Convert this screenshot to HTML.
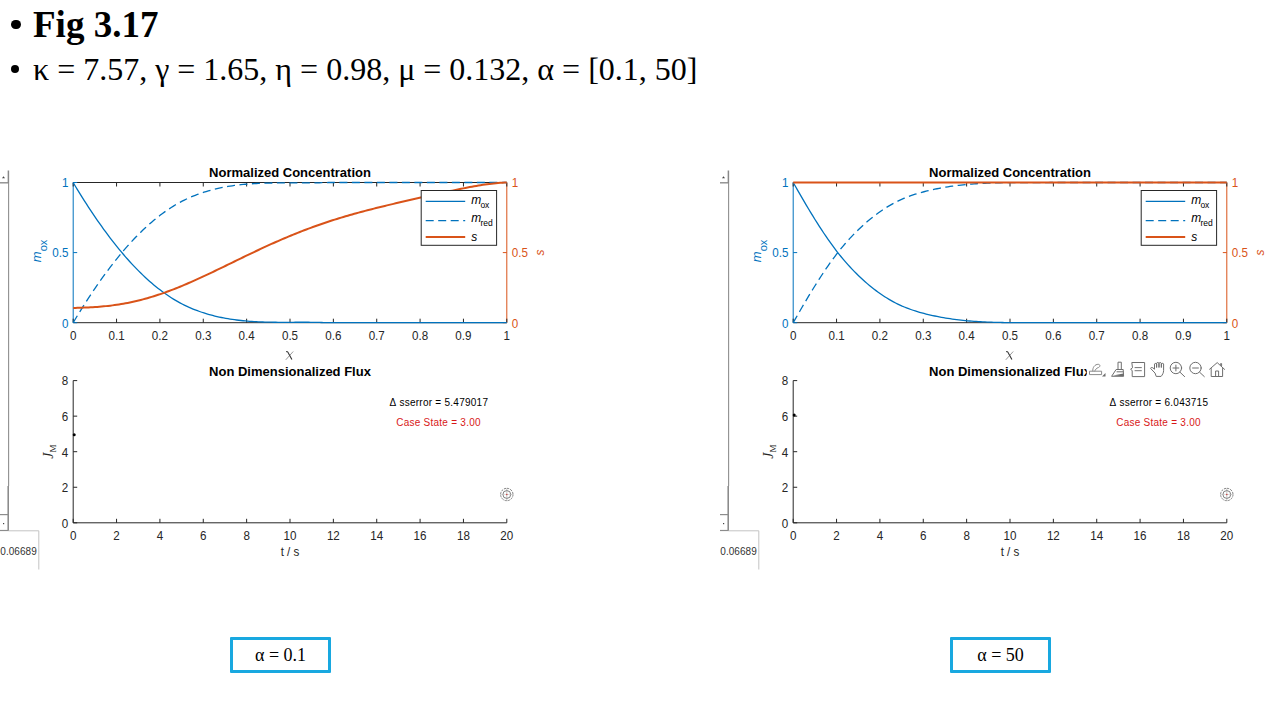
<!DOCTYPE html>
<html><head><meta charset="utf-8"><style>
html,body{margin:0;padding:0;background:#fff;width:1280px;height:720px;overflow:hidden;}
body{position:relative;font-family:"Liberation Sans",sans-serif;}
.h1{position:absolute;left:0;top:0;font-family:"Liberation Serif",serif;font-weight:bold;font-size:37px;color:#000;white-space:nowrap;}
.h2{position:absolute;left:0;top:0;font-family:"Liberation Serif",serif;font-size:32px;color:#000;white-space:nowrap;}
svg{position:absolute;left:0;top:0;}
.tk{font-family:"Liberation Sans",sans-serif;font-size:12.5px;fill:#262626;}
.ttl{font-family:"Liberation Sans",sans-serif;font-size:13px;font-weight:bold;fill:#000;}
.lab{font-family:"Liberation Sans",sans-serif;font-size:12px;}
.lg{font-family:"Liberation Sans",sans-serif;font-size:11px;fill:#000;}
.chi{font-family:"Liberation Serif",serif;font-size:14px;font-style:italic;fill:#262626;}
.jm{font-family:"Liberation Serif",serif;font-size:13px;fill:#262626;}
.ann{font-family:"Liberation Sans",sans-serif;font-size:10px;fill:#000;letter-spacing:0.25px;}
.cap{position:absolute;box-sizing:border-box;border:3px solid #18A8E0;background:#fff;font-family:"Liberation Serif",serif;font-size:18px;color:#000;text-align:center;border-radius:1px;}
</style></head><body>
<div style="position:absolute;left:11.2px;top:19.8px;width:9.4px;height:9.4px;border-radius:50%;background:#000"></div>
<div class="h1" style="left:33px;top:3px">Fig 3.17</div>
<div style="position:absolute;left:11px;top:65px;width:8.2px;height:8.2px;border-radius:50%;background:#000"></div>
<div class="h2" style="left:33px;top:51px">κ = 7.57, γ = 1.65, η = 0.98, μ = 0.132, α = [0.1, 50]</div>
<svg width="1280" height="720" viewBox="0 0 1280 720">
<line x1="8.6" y1="183" x2="8.6" y2="486" stroke="#8f8f8f" stroke-width="1.1"/>
<line x1="8.4" y1="170.5" x2="8.4" y2="183" stroke="#888" stroke-width="1.5"/>
<line x1="8.2" y1="486" x2="8.2" y2="531" stroke="#858585" stroke-width="1.5"/>
<line x1="0" y1="182.8" x2="8.5" y2="182.8" stroke="#8c8c8c" stroke-width="1.4"/>
<path d="M2 178.3 L3.5 176.3 L5 178.3 Z" fill="#444"/>
<line x1="0" y1="514.6" x2="8.5" y2="514.6" stroke="#8c8c8c" stroke-width="1.2"/>
<rect x="3" y="523" width="1.2" height="1.2" fill="#444"/>
<line x1="0" y1="530.5" x2="8.5" y2="530.5" stroke="#8c8c8c" stroke-width="1.2"/>
<path d="M8.5 530.8 H38.8 V569.5" fill="none" stroke="#c4c4c4" stroke-width="1"/>
<text x="0.3" y="555" class="ann" style="fill:#333;letter-spacing:0.05px">0.06689</text>
<line x1="728.6" y1="183" x2="728.6" y2="486" stroke="#8f8f8f" stroke-width="1.1"/>
<line x1="728.4" y1="170.5" x2="728.4" y2="183" stroke="#888" stroke-width="1.5"/>
<line x1="728.2" y1="486" x2="728.2" y2="531" stroke="#858585" stroke-width="1.5"/>
<line x1="720" y1="182.8" x2="728.5" y2="182.8" stroke="#8c8c8c" stroke-width="1.4"/>
<path d="M722 178.3 L723.5 176.3 L725 178.3 Z" fill="#444"/>
<line x1="720" y1="514.6" x2="728.5" y2="514.6" stroke="#8c8c8c" stroke-width="1.2"/>
<rect x="723" y="523" width="1.2" height="1.2" fill="#444"/>
<line x1="720" y1="530.5" x2="728.5" y2="530.5" stroke="#8c8c8c" stroke-width="1.2"/>
<path d="M728.5 530.8 H758.8 V569.5" fill="none" stroke="#c4c4c4" stroke-width="1"/>
<text x="720.3" y="555" class="ann" style="fill:#333;letter-spacing:0.05px">0.06689</text>
<line x1="73.2" y1="182.5" x2="506.8" y2="182.5" stroke="#262626" stroke-width="1"/>
<line x1="73.2" y1="322.7" x2="506.8" y2="322.7" stroke="#262626" stroke-width="1"/>
<line x1="73.2" y1="182.5" x2="73.2" y2="322.7" stroke="#0072BD" stroke-width="1"/>
<line x1="506.8" y1="182.5" x2="506.8" y2="322.7" stroke="#D95319" stroke-width="1"/>
<line x1="73.20" y1="322.7" x2="73.20" y2="318.7" stroke="#262626" stroke-width="1"/>
<line x1="73.20" y1="182.5" x2="73.20" y2="186.5" stroke="#262626" stroke-width="1"/>
<text transform="translate(73.20,339.7) scale(0.93,1)" class="tk" text-anchor="middle">0</text>
<line x1="116.56" y1="322.7" x2="116.56" y2="318.7" stroke="#262626" stroke-width="1"/>
<line x1="116.56" y1="182.5" x2="116.56" y2="186.5" stroke="#262626" stroke-width="1"/>
<text transform="translate(116.56,339.7) scale(0.93,1)" class="tk" text-anchor="middle">0.1</text>
<line x1="159.92" y1="322.7" x2="159.92" y2="318.7" stroke="#262626" stroke-width="1"/>
<line x1="159.92" y1="182.5" x2="159.92" y2="186.5" stroke="#262626" stroke-width="1"/>
<text transform="translate(159.92,339.7) scale(0.93,1)" class="tk" text-anchor="middle">0.2</text>
<line x1="203.28" y1="322.7" x2="203.28" y2="318.7" stroke="#262626" stroke-width="1"/>
<line x1="203.28" y1="182.5" x2="203.28" y2="186.5" stroke="#262626" stroke-width="1"/>
<text transform="translate(203.28,339.7) scale(0.93,1)" class="tk" text-anchor="middle">0.3</text>
<line x1="246.64" y1="322.7" x2="246.64" y2="318.7" stroke="#262626" stroke-width="1"/>
<line x1="246.64" y1="182.5" x2="246.64" y2="186.5" stroke="#262626" stroke-width="1"/>
<text transform="translate(246.64,339.7) scale(0.93,1)" class="tk" text-anchor="middle">0.4</text>
<line x1="290.00" y1="322.7" x2="290.00" y2="318.7" stroke="#262626" stroke-width="1"/>
<line x1="290.00" y1="182.5" x2="290.00" y2="186.5" stroke="#262626" stroke-width="1"/>
<text transform="translate(290.00,339.7) scale(0.93,1)" class="tk" text-anchor="middle">0.5</text>
<line x1="333.36" y1="322.7" x2="333.36" y2="318.7" stroke="#262626" stroke-width="1"/>
<line x1="333.36" y1="182.5" x2="333.36" y2="186.5" stroke="#262626" stroke-width="1"/>
<text transform="translate(333.36,339.7) scale(0.93,1)" class="tk" text-anchor="middle">0.6</text>
<line x1="376.72" y1="322.7" x2="376.72" y2="318.7" stroke="#262626" stroke-width="1"/>
<line x1="376.72" y1="182.5" x2="376.72" y2="186.5" stroke="#262626" stroke-width="1"/>
<text transform="translate(376.72,339.7) scale(0.93,1)" class="tk" text-anchor="middle">0.7</text>
<line x1="420.08" y1="322.7" x2="420.08" y2="318.7" stroke="#262626" stroke-width="1"/>
<line x1="420.08" y1="182.5" x2="420.08" y2="186.5" stroke="#262626" stroke-width="1"/>
<text transform="translate(420.08,339.7) scale(0.93,1)" class="tk" text-anchor="middle">0.8</text>
<line x1="463.44" y1="322.7" x2="463.44" y2="318.7" stroke="#262626" stroke-width="1"/>
<line x1="463.44" y1="182.5" x2="463.44" y2="186.5" stroke="#262626" stroke-width="1"/>
<text transform="translate(463.44,339.7) scale(0.93,1)" class="tk" text-anchor="middle">0.9</text>
<line x1="506.80" y1="322.7" x2="506.80" y2="318.7" stroke="#262626" stroke-width="1"/>
<line x1="506.80" y1="182.5" x2="506.80" y2="186.5" stroke="#262626" stroke-width="1"/>
<text transform="translate(506.80,339.7) scale(0.93,1)" class="tk" text-anchor="middle">1</text>
<line x1="73.2" y1="322.70" x2="77.2" y2="322.70" stroke="#0072BD" stroke-width="1"/>
<line x1="506.8" y1="322.70" x2="502.8" y2="322.70" stroke="#D95319" stroke-width="1"/>
<text transform="translate(68.4,327.50) scale(0.93,1)" class="tk" style="fill:#0072BD" text-anchor="end">0</text>
<text transform="translate(511.8,327.50) scale(0.93,1)" class="tk" style="fill:#D95319">0</text>
<line x1="73.2" y1="252.60" x2="77.2" y2="252.60" stroke="#0072BD" stroke-width="1"/>
<line x1="506.8" y1="252.60" x2="502.8" y2="252.60" stroke="#D95319" stroke-width="1"/>
<text transform="translate(68.4,257.40) scale(0.93,1)" class="tk" style="fill:#0072BD" text-anchor="end">0.5</text>
<text transform="translate(511.8,257.40) scale(0.93,1)" class="tk" style="fill:#D95319">0.5</text>
<line x1="73.2" y1="182.50" x2="77.2" y2="182.50" stroke="#0072BD" stroke-width="1"/>
<line x1="506.8" y1="182.50" x2="502.8" y2="182.50" stroke="#D95319" stroke-width="1"/>
<text transform="translate(68.4,187.30) scale(0.93,1)" class="tk" style="fill:#0072BD" text-anchor="end">1</text>
<text transform="translate(511.8,187.30) scale(0.93,1)" class="tk" style="fill:#D95319">1</text>
<polyline points="73.20,182.59 75.38,186.22 77.56,189.81 79.74,193.36 81.92,196.85 84.09,200.31 86.27,203.71 88.45,207.07 90.63,210.38 92.81,213.65 94.99,216.87 97.17,220.04 99.35,223.16 101.53,226.23 103.70,229.26 105.88,232.24 108.06,235.17 110.24,238.05 112.42,240.88 114.60,243.66 116.78,246.38 118.96,249.06 121.14,251.69 123.31,254.27 125.49,256.80 127.67,259.27 129.85,261.70 132.03,264.07 134.21,266.39 136.39,268.66 138.57,270.87 140.75,273.03 142.92,275.14 145.10,277.20 147.28,279.20 149.46,281.15 151.64,283.04 153.82,284.89 156.00,286.68 158.18,288.41 160.36,290.10 162.53,291.73 164.71,293.31 166.89,294.83 169.07,296.30 171.25,297.72 173.43,299.09 175.61,300.40 177.79,301.66 179.97,302.87 182.14,304.02 184.32,305.12 186.50,306.17 188.68,307.18 190.86,308.13 193.04,309.04 195.22,309.90 197.40,310.73 199.58,311.51 201.75,312.26 203.93,312.97 206.11,313.65 208.29,314.29 210.47,314.90 212.65,315.48 214.83,316.03 217.01,316.55 219.19,317.04 221.36,317.50 223.54,317.94 225.72,318.34 227.90,318.73 230.08,319.08 232.26,319.41 234.44,319.72 236.62,320.01 238.80,320.27 240.97,320.52 243.15,320.74 245.33,320.95 247.51,321.13 249.69,321.30 251.87,321.46 254.05,321.59 256.23,321.71 258.41,321.82 260.58,321.92 262.76,322.00 264.94,322.07 267.12,322.13 269.30,322.17 271.48,322.21 273.66,322.24 275.84,322.27 278.02,322.28 280.19,322.30 282.37,322.30 284.55,322.30 286.73,322.30 288.91,322.30 291.09,322.29 293.27,322.28 295.45,322.27 297.63,322.27 299.81,322.26 301.98,322.26 304.16,322.26 306.34,322.26 308.52,322.27 310.70,322.29 312.88,322.31 315.06,322.34 317.24,322.38 319.42,322.42 321.59,322.48 323.77,322.54 325.95,322.62 328.13,322.70 330.31,322.70 332.49,322.70 334.67,322.70 336.85,322.70 339.03,322.70 341.20,322.70 343.38,322.70 345.56,322.70 347.74,322.70 349.92,322.70 352.10,322.70 354.28,322.70 356.46,322.70 358.64,322.70 360.81,322.70 362.99,322.70 365.17,322.70 367.35,322.70 369.53,322.70 371.71,322.70 373.89,322.70 376.07,322.70 378.25,322.70 380.42,322.70 382.60,322.70 384.78,322.70 386.96,322.70 389.14,322.70 391.32,322.70 393.50,322.70 395.68,322.70 397.86,322.70 400.03,322.70 402.21,322.70 404.39,322.70 406.57,322.70 408.75,322.70 410.93,322.70 413.11,322.70 415.29,322.70 417.47,322.70 419.64,322.70 421.82,322.70 424.00,322.70 426.18,322.70 428.36,322.70 430.54,322.70 432.72,322.70 434.90,322.70 437.08,322.70 439.25,322.70 441.43,322.70 443.61,322.70 445.79,322.70 447.97,322.70 450.15,322.70 452.33,322.70 454.51,322.70 456.69,322.70 458.86,322.70 461.04,322.70 463.22,322.70 465.40,322.70 467.58,322.70 469.76,322.70 471.94,322.70 474.12,322.70 476.30,322.70 478.47,322.70 480.65,322.70 482.83,322.70 485.01,322.70 487.19,322.70 489.37,322.70 491.55,322.70 493.73,322.70 495.91,322.70 498.08,322.70 500.26,322.70 502.44,322.70 504.62,322.70 506.80,322.70" fill="none" stroke="#0072BD" stroke-width="1.3"/>
<polyline points="73.20,322.61 75.38,318.98 77.56,315.39 79.74,311.84 81.92,308.35 84.09,304.89 86.27,301.49 88.45,298.13 90.63,294.82 92.81,291.55 94.99,288.33 97.17,285.16 99.35,282.04 101.53,278.97 103.70,275.94 105.88,272.96 108.06,270.03 110.24,267.15 112.42,264.32 114.60,261.54 116.78,258.82 118.96,256.14 121.14,253.51 123.31,250.93 125.49,248.40 127.67,245.93 129.85,243.50 132.03,241.13 134.21,238.81 136.39,236.54 138.57,234.33 140.75,232.17 142.92,230.06 145.10,228.00 147.28,226.00 149.46,224.05 151.64,222.16 153.82,220.31 156.00,218.52 158.18,216.79 160.36,215.10 162.53,213.47 164.71,211.89 166.89,210.37 169.07,208.90 171.25,207.48 173.43,206.11 175.61,204.80 177.79,203.54 179.97,202.33 182.14,201.18 184.32,200.08 186.50,199.03 188.68,198.02 190.86,197.07 193.04,196.16 195.22,195.30 197.40,194.47 199.58,193.69 201.75,192.94 203.93,192.23 206.11,191.55 208.29,190.91 210.47,190.30 212.65,189.72 214.83,189.17 217.01,188.65 219.19,188.16 221.36,187.70 223.54,187.26 225.72,186.86 227.90,186.47 230.08,186.12 232.26,185.79 234.44,185.48 236.62,185.19 238.80,184.93 240.97,184.68 243.15,184.46 245.33,184.25 247.51,184.07 249.69,183.90 251.87,183.74 254.05,183.61 256.23,183.49 258.41,183.38 260.58,183.28 262.76,183.20 264.94,183.13 267.12,183.07 269.30,183.03 271.48,182.99 273.66,182.96 275.84,182.93 278.02,182.92 280.19,182.90 282.37,182.90 284.55,182.90 286.73,182.90 288.91,182.90 291.09,182.91 293.27,182.92 295.45,182.93 297.63,182.93 299.81,182.94 301.98,182.94 304.16,182.94 306.34,182.94 308.52,182.93 310.70,182.91 312.88,182.89 315.06,182.86 317.24,182.82 319.42,182.78 321.59,182.72 323.77,182.66 325.95,182.58 328.13,182.50 330.31,182.50 332.49,182.50 334.67,182.50 336.85,182.50 339.03,182.50 341.20,182.50 343.38,182.50 345.56,182.50 347.74,182.50 349.92,182.50 352.10,182.50 354.28,182.50 356.46,182.50 358.64,182.50 360.81,182.50 362.99,182.50 365.17,182.50 367.35,182.50 369.53,182.50 371.71,182.50 373.89,182.50 376.07,182.50 378.25,182.50 380.42,182.50 382.60,182.50 384.78,182.50 386.96,182.50 389.14,182.50 391.32,182.50 393.50,182.50 395.68,182.50 397.86,182.50 400.03,182.50 402.21,182.50 404.39,182.50 406.57,182.50 408.75,182.50 410.93,182.50 413.11,182.50 415.29,182.50 417.47,182.50 419.64,182.50 421.82,182.50 424.00,182.50 426.18,182.50 428.36,182.50 430.54,182.50 432.72,182.50 434.90,182.50 437.08,182.50 439.25,182.50 441.43,182.50 443.61,182.50 445.79,182.50 447.97,182.50 450.15,182.50 452.33,182.50 454.51,182.50 456.69,182.50 458.86,182.50 461.04,182.50 463.22,182.50 465.40,182.50 467.58,182.50 469.76,182.50 471.94,182.50 474.12,182.50 476.30,182.50 478.47,182.50 480.65,182.50 482.83,182.50 485.01,182.50 487.19,182.50 489.37,182.50 491.55,182.50 493.73,182.50 495.91,182.50 498.08,182.50 500.26,182.50 502.44,182.50 504.62,182.50 506.80,182.50" fill="none" stroke="#0072BD" stroke-width="1.3" stroke-dasharray="8 4.5"/>
<polyline points="73.20,307.94 75.38,307.88 77.56,307.81 79.74,307.74 81.92,307.67 84.09,307.59 86.27,307.50 88.45,307.40 90.63,307.29 92.81,307.17 94.99,307.03 97.17,306.89 99.35,306.72 101.53,306.54 103.70,306.35 105.88,306.13 108.06,305.90 110.24,305.65 112.42,305.38 114.60,305.09 116.78,304.78 118.96,304.45 121.14,304.09 123.31,303.72 125.49,303.33 127.67,302.91 129.85,302.47 132.03,302.01 134.21,301.53 136.39,301.03 138.57,300.50 140.75,299.95 142.92,299.39 145.10,298.80 147.28,298.19 149.46,297.55 151.64,296.90 153.82,296.23 156.00,295.54 158.18,294.82 160.36,294.09 162.53,293.34 164.71,292.57 166.89,291.79 169.07,290.98 171.25,290.16 173.43,289.32 175.61,288.47 177.79,287.60 179.97,286.71 182.14,285.81 184.32,284.90 186.50,283.97 188.68,283.04 190.86,282.09 193.04,281.12 195.22,280.15 197.40,279.17 199.58,278.17 201.75,277.17 203.93,276.16 206.11,275.15 208.29,274.12 210.47,273.09 212.65,272.05 214.83,271.01 217.01,269.96 219.19,268.91 221.36,267.86 223.54,266.80 225.72,265.74 227.90,264.68 230.08,263.62 232.26,262.56 234.44,261.50 236.62,260.44 238.80,259.38 240.97,258.32 243.15,257.26 245.33,256.21 247.51,255.16 249.69,254.11 251.87,253.07 254.05,252.03 256.23,251.00 258.41,249.98 260.58,248.95 262.76,247.94 264.94,246.93 267.12,245.93 269.30,244.94 271.48,243.95 273.66,242.98 275.84,242.01 278.02,241.05 280.19,240.10 282.37,239.16 284.55,238.22 286.73,237.30 288.91,236.39 291.09,235.48 293.27,234.59 295.45,233.71 297.63,232.84 299.81,231.97 301.98,231.12 304.16,230.28 306.34,229.45 308.52,228.63 310.70,227.82 312.88,227.03 315.06,226.24 317.24,225.46 319.42,224.70 321.59,223.94 323.77,223.20 325.95,222.46 328.13,221.74 330.31,221.03 332.49,220.32 334.67,219.63 336.85,218.95 339.03,218.27 341.20,217.61 343.38,216.95 345.56,216.31 347.74,215.67 349.92,215.04 352.10,214.42 354.28,213.80 356.46,213.20 358.64,212.60 360.81,212.01 362.99,211.43 365.17,210.85 367.35,210.28 369.53,209.72 371.71,209.16 373.89,208.61 376.07,208.06 378.25,207.52 380.42,206.98 382.60,206.45 384.78,205.92 386.96,205.40 389.14,204.88 391.32,204.36 393.50,203.85 395.68,203.33 397.86,202.83 400.03,202.32 402.21,201.82 404.39,201.31 406.57,200.81 408.75,200.31 410.93,199.82 413.11,199.32 415.29,198.83 417.47,198.33 419.64,197.84 421.82,197.35 424.00,196.86 426.18,196.37 428.36,195.88 430.54,195.40 432.72,194.91 434.90,194.42 437.08,193.94 439.25,193.46 441.43,192.98 443.61,192.50 445.79,192.03 447.97,191.55 450.15,191.08 452.33,190.62 454.51,190.15 456.69,189.70 458.86,189.24 461.04,188.80 463.22,188.36 465.40,187.92 467.58,187.50 469.76,187.08 471.94,186.68 474.12,186.28 476.30,185.90 478.47,185.53 480.65,185.17 482.83,184.83 485.01,184.50 487.19,184.20 489.37,183.91 491.55,183.64 493.73,183.40 495.91,183.18 498.08,182.99 500.26,182.82 502.44,182.69 504.62,182.59 506.80,182.52" fill="none" stroke="#D95319" stroke-width="2"/>
<text x="290.00" y="177" class="ttl" text-anchor="middle">Normalized Concentration</text>
<path d="M286.20 351.8 C287.40 351.2 288.00 352.2 288.60 353.5 L291.90 359.6" fill="none" stroke="#333" stroke-width="1.1"/>
<path d="M293.20 351.5 L285.80 359.8" fill="none" stroke="#555" stroke-width="0.6"/>
<text transform="translate(41.20,250.90) rotate(-90)" class="lab" style="fill:#0072BD" text-anchor="middle"><tspan font-style="italic" font-size="13">m</tspan><tspan font-size="11" dy="5.5">ox</tspan></text>
<text transform="translate(543.80,252.60) rotate(-90)" class="lab" style="fill:#D95319" text-anchor="middle" font-style="italic">s</text>
<rect x="421.2" y="190.5" width="75.4" height="54.8" fill="#fff" stroke="#262626" stroke-width="1"/>
<line x1="425.7" y1="201.3" x2="465.2" y2="201.3" stroke="#0072BD" stroke-width="1.3"/>
<line x1="425.7" y1="220.7" x2="465.2" y2="220.7" stroke="#0072BD" stroke-width="1.3" stroke-dasharray="8 4.5"/>
<line x1="425.7" y1="237" x2="465.2" y2="237" stroke="#D95319" stroke-width="2"/>
<text x="471.2" y="204" class="lg"><tspan font-style="italic" font-size="12">m</tspan><tspan font-size="8.5" dy="4" dx="-0.8">ox</tspan></text>
<text x="471.2" y="222" class="lg"><tspan font-style="italic" font-size="12">m</tspan><tspan font-size="8.5" dy="4" dx="-0.8">red</tspan></text>
<text x="471.2" y="241" class="lg" style="font-style:italic;font-size:12px">s</text>
<line x1="73.2" y1="380.6" x2="73.2" y2="522.8" stroke="#262626" stroke-width="1"/>
<line x1="73.2" y1="522.8" x2="506.8" y2="522.8" stroke="#262626" stroke-width="1"/>
<line x1="73.20" y1="522.8" x2="73.20" y2="518.8" stroke="#262626" stroke-width="1"/>
<text transform="translate(73.20,539.8) scale(0.93,1)" class="tk" text-anchor="middle">0</text>
<line x1="116.56" y1="522.8" x2="116.56" y2="518.8" stroke="#262626" stroke-width="1"/>
<text transform="translate(116.56,539.8) scale(0.93,1)" class="tk" text-anchor="middle">2</text>
<line x1="159.92" y1="522.8" x2="159.92" y2="518.8" stroke="#262626" stroke-width="1"/>
<text transform="translate(159.92,539.8) scale(0.93,1)" class="tk" text-anchor="middle">4</text>
<line x1="203.28" y1="522.8" x2="203.28" y2="518.8" stroke="#262626" stroke-width="1"/>
<text transform="translate(203.28,539.8) scale(0.93,1)" class="tk" text-anchor="middle">6</text>
<line x1="246.64" y1="522.8" x2="246.64" y2="518.8" stroke="#262626" stroke-width="1"/>
<text transform="translate(246.64,539.8) scale(0.93,1)" class="tk" text-anchor="middle">8</text>
<line x1="290.00" y1="522.8" x2="290.00" y2="518.8" stroke="#262626" stroke-width="1"/>
<text transform="translate(290.00,539.8) scale(0.93,1)" class="tk" text-anchor="middle">10</text>
<line x1="333.36" y1="522.8" x2="333.36" y2="518.8" stroke="#262626" stroke-width="1"/>
<text transform="translate(333.36,539.8) scale(0.93,1)" class="tk" text-anchor="middle">12</text>
<line x1="376.72" y1="522.8" x2="376.72" y2="518.8" stroke="#262626" stroke-width="1"/>
<text transform="translate(376.72,539.8) scale(0.93,1)" class="tk" text-anchor="middle">14</text>
<line x1="420.08" y1="522.8" x2="420.08" y2="518.8" stroke="#262626" stroke-width="1"/>
<text transform="translate(420.08,539.8) scale(0.93,1)" class="tk" text-anchor="middle">16</text>
<line x1="463.44" y1="522.8" x2="463.44" y2="518.8" stroke="#262626" stroke-width="1"/>
<text transform="translate(463.44,539.8) scale(0.93,1)" class="tk" text-anchor="middle">18</text>
<line x1="506.80" y1="522.8" x2="506.80" y2="518.8" stroke="#262626" stroke-width="1"/>
<text transform="translate(506.80,539.8) scale(0.93,1)" class="tk" text-anchor="middle">20</text>
<line x1="73.2" y1="522.80" x2="77.2" y2="522.80" stroke="#262626" stroke-width="1"/>
<text transform="translate(68.2,527.60) scale(0.93,1)" class="tk" text-anchor="end">0</text>
<line x1="73.2" y1="487.25" x2="77.2" y2="487.25" stroke="#262626" stroke-width="1"/>
<text transform="translate(68.2,492.05) scale(0.93,1)" class="tk" text-anchor="end">2</text>
<line x1="73.2" y1="451.70" x2="77.2" y2="451.70" stroke="#262626" stroke-width="1"/>
<text transform="translate(68.2,456.50) scale(0.93,1)" class="tk" text-anchor="end">4</text>
<line x1="73.2" y1="416.15" x2="77.2" y2="416.15" stroke="#262626" stroke-width="1"/>
<text transform="translate(68.2,420.95) scale(0.93,1)" class="tk" text-anchor="end">6</text>
<line x1="73.2" y1="380.60" x2="77.2" y2="380.60" stroke="#262626" stroke-width="1"/>
<text transform="translate(68.2,385.40) scale(0.93,1)" class="tk" text-anchor="end">8</text>
<text x="290.00" y="375.5" class="ttl" text-anchor="middle">Non Dimensionalized Flux</text>
<text transform="translate(290.00,556) scale(0.93,1)" class="tk" text-anchor="middle">t / s</text>
<text transform="translate(53.20,451.70) rotate(-90)" class="jm" text-anchor="middle"><tspan font-style="italic" font-size="14">J</tspan><tspan font-size="9" dy="2.5">M</tspan></text>
<circle cx="74.2" cy="434.81" r="1.5" fill="#000"/>
<text x="488.20" y="405.5" class="ann" text-anchor="end">Δ<tspan dx="3">sserror = 5.479017</tspan></text>
<text x="480.80" y="425.5" class="ann" style="fill:#D81818" text-anchor="end">Case State = 3.00</text>
<circle cx="506.80" cy="494.5" r="6.2" fill="none" stroke="#707070" stroke-width="0.9" stroke-dasharray="2.2 1"/>
<circle cx="506.80" cy="494.5" r="3.9" fill="none" stroke="#707070" stroke-width="0.9"/>
<line x1="506.80" y1="488.3" x2="506.80" y2="500.8" stroke="#888" stroke-width="0.5"/>
<line x1="500.30" y1="494.5" x2="513.30" y2="494.5" stroke="#aaa" stroke-width="0.4"/>
<circle cx="506.80" cy="494.5" r="0.8" fill="#c44"/>
<line x1="793.2" y1="182.5" x2="1226.8000000000002" y2="182.5" stroke="#262626" stroke-width="1"/>
<line x1="793.2" y1="322.7" x2="1226.8000000000002" y2="322.7" stroke="#262626" stroke-width="1"/>
<line x1="793.2" y1="182.5" x2="793.2" y2="322.7" stroke="#0072BD" stroke-width="1"/>
<line x1="1226.8000000000002" y1="182.5" x2="1226.8000000000002" y2="322.7" stroke="#D95319" stroke-width="1"/>
<line x1="793.20" y1="322.7" x2="793.20" y2="318.7" stroke="#262626" stroke-width="1"/>
<line x1="793.20" y1="182.5" x2="793.20" y2="186.5" stroke="#262626" stroke-width="1"/>
<text transform="translate(793.20,339.7) scale(0.93,1)" class="tk" text-anchor="middle">0</text>
<line x1="836.56" y1="322.7" x2="836.56" y2="318.7" stroke="#262626" stroke-width="1"/>
<line x1="836.56" y1="182.5" x2="836.56" y2="186.5" stroke="#262626" stroke-width="1"/>
<text transform="translate(836.56,339.7) scale(0.93,1)" class="tk" text-anchor="middle">0.1</text>
<line x1="879.92" y1="322.7" x2="879.92" y2="318.7" stroke="#262626" stroke-width="1"/>
<line x1="879.92" y1="182.5" x2="879.92" y2="186.5" stroke="#262626" stroke-width="1"/>
<text transform="translate(879.92,339.7) scale(0.93,1)" class="tk" text-anchor="middle">0.2</text>
<line x1="923.28" y1="322.7" x2="923.28" y2="318.7" stroke="#262626" stroke-width="1"/>
<line x1="923.28" y1="182.5" x2="923.28" y2="186.5" stroke="#262626" stroke-width="1"/>
<text transform="translate(923.28,339.7) scale(0.93,1)" class="tk" text-anchor="middle">0.3</text>
<line x1="966.64" y1="322.7" x2="966.64" y2="318.7" stroke="#262626" stroke-width="1"/>
<line x1="966.64" y1="182.5" x2="966.64" y2="186.5" stroke="#262626" stroke-width="1"/>
<text transform="translate(966.64,339.7) scale(0.93,1)" class="tk" text-anchor="middle">0.4</text>
<line x1="1010.00" y1="322.7" x2="1010.00" y2="318.7" stroke="#262626" stroke-width="1"/>
<line x1="1010.00" y1="182.5" x2="1010.00" y2="186.5" stroke="#262626" stroke-width="1"/>
<text transform="translate(1010.00,339.7) scale(0.93,1)" class="tk" text-anchor="middle">0.5</text>
<line x1="1053.36" y1="322.7" x2="1053.36" y2="318.7" stroke="#262626" stroke-width="1"/>
<line x1="1053.36" y1="182.5" x2="1053.36" y2="186.5" stroke="#262626" stroke-width="1"/>
<text transform="translate(1053.36,339.7) scale(0.93,1)" class="tk" text-anchor="middle">0.6</text>
<line x1="1096.72" y1="322.7" x2="1096.72" y2="318.7" stroke="#262626" stroke-width="1"/>
<line x1="1096.72" y1="182.5" x2="1096.72" y2="186.5" stroke="#262626" stroke-width="1"/>
<text transform="translate(1096.72,339.7) scale(0.93,1)" class="tk" text-anchor="middle">0.7</text>
<line x1="1140.08" y1="322.7" x2="1140.08" y2="318.7" stroke="#262626" stroke-width="1"/>
<line x1="1140.08" y1="182.5" x2="1140.08" y2="186.5" stroke="#262626" stroke-width="1"/>
<text transform="translate(1140.08,339.7) scale(0.93,1)" class="tk" text-anchor="middle">0.8</text>
<line x1="1183.44" y1="322.7" x2="1183.44" y2="318.7" stroke="#262626" stroke-width="1"/>
<line x1="1183.44" y1="182.5" x2="1183.44" y2="186.5" stroke="#262626" stroke-width="1"/>
<text transform="translate(1183.44,339.7) scale(0.93,1)" class="tk" text-anchor="middle">0.9</text>
<line x1="1226.80" y1="322.7" x2="1226.80" y2="318.7" stroke="#262626" stroke-width="1"/>
<line x1="1226.80" y1="182.5" x2="1226.80" y2="186.5" stroke="#262626" stroke-width="1"/>
<text transform="translate(1226.80,339.7) scale(0.93,1)" class="tk" text-anchor="middle">1</text>
<line x1="793.2" y1="322.70" x2="797.2" y2="322.70" stroke="#0072BD" stroke-width="1"/>
<line x1="1226.8000000000002" y1="322.70" x2="1222.8000000000002" y2="322.70" stroke="#D95319" stroke-width="1"/>
<text transform="translate(788.4000000000001,327.50) scale(0.93,1)" class="tk" style="fill:#0072BD" text-anchor="end">0</text>
<text transform="translate(1231.8000000000002,327.50) scale(0.93,1)" class="tk" style="fill:#D95319">0</text>
<line x1="793.2" y1="252.60" x2="797.2" y2="252.60" stroke="#0072BD" stroke-width="1"/>
<line x1="1226.8000000000002" y1="252.60" x2="1222.8000000000002" y2="252.60" stroke="#D95319" stroke-width="1"/>
<text transform="translate(788.4000000000001,257.40) scale(0.93,1)" class="tk" style="fill:#0072BD" text-anchor="end">0.5</text>
<text transform="translate(1231.8000000000002,257.40) scale(0.93,1)" class="tk" style="fill:#D95319">0.5</text>
<line x1="793.2" y1="182.50" x2="797.2" y2="182.50" stroke="#0072BD" stroke-width="1"/>
<line x1="1226.8000000000002" y1="182.50" x2="1222.8000000000002" y2="182.50" stroke="#D95319" stroke-width="1"/>
<text transform="translate(788.4000000000001,187.30) scale(0.93,1)" class="tk" style="fill:#0072BD" text-anchor="end">1</text>
<text transform="translate(1231.8000000000002,187.30) scale(0.93,1)" class="tk" style="fill:#D95319">1</text>
<polyline points="793.20,182.50 795.38,186.26 797.56,190.09 799.74,193.90 801.92,197.67 804.09,201.41 806.27,205.11 808.45,208.77 810.63,212.38 812.81,215.95 814.99,219.47 817.17,222.94 819.35,226.35 821.53,229.70 823.70,232.99 825.88,236.22 828.06,239.38 830.24,242.46 832.42,245.48 834.60,248.42 836.78,251.28 838.96,254.05 841.14,256.75 843.31,259.37 845.49,261.92 847.67,264.39 849.85,266.78 852.03,269.11 854.21,271.38 856.39,273.57 858.57,275.70 860.75,277.78 862.92,279.79 865.10,281.74 867.28,283.63 869.46,285.46 871.64,287.24 873.82,288.95 876.00,290.61 878.18,292.21 880.36,293.75 882.53,295.24 884.71,296.67 886.89,298.04 889.07,299.35 891.25,300.61 893.43,301.82 895.61,302.97 897.79,304.06 899.97,305.10 902.14,306.09 904.32,307.02 906.50,307.90 908.68,308.73 910.86,309.51 913.04,310.25 915.22,310.96 917.40,311.63 919.58,312.26 921.75,312.87 923.93,313.45 926.11,314.01 928.29,314.54 930.47,315.05 932.65,315.54 934.83,316.01 937.01,316.46 939.19,316.89 941.36,317.29 943.54,317.68 945.72,318.05 947.90,318.40 950.08,318.73 952.26,319.04 954.44,319.34 956.62,319.62 958.80,319.88 960.97,320.13 963.15,320.37 965.33,320.58 967.51,320.79 969.69,320.98 971.87,321.15 974.05,321.32 976.23,321.47 978.41,321.61 980.58,321.74 982.76,321.85 984.94,321.96 987.12,322.06 989.30,322.14 991.48,322.22 993.66,322.29 995.84,322.35 998.02,322.41 1000.19,322.45 1002.37,322.49 1004.55,322.53 1006.73,322.56 1008.91,322.58 1011.09,322.60 1013.27,322.61 1015.45,322.63 1017.63,322.63 1019.81,322.64 1021.98,322.64 1024.16,322.64 1026.34,322.64 1028.52,322.64 1030.70,322.64 1032.88,322.64 1035.06,322.64 1037.24,322.64 1039.42,322.64 1041.59,322.64 1043.77,322.65 1045.95,322.66 1048.13,322.67 1050.31,322.69 1052.49,322.70 1054.67,322.70 1056.85,322.70 1059.03,322.70 1061.20,322.70 1063.38,322.70 1065.56,322.70 1067.74,322.70 1069.92,322.70 1072.10,322.70 1074.28,322.70 1076.46,322.70 1078.64,322.70 1080.81,322.70 1082.99,322.70 1085.17,322.70 1087.35,322.70 1089.53,322.70 1091.71,322.70 1093.89,322.70 1096.07,322.70 1098.25,322.70 1100.42,322.70 1102.60,322.70 1104.78,322.70 1106.96,322.70 1109.14,322.70 1111.32,322.70 1113.50,322.70 1115.68,322.70 1117.86,322.70 1120.03,322.70 1122.21,322.70 1124.39,322.70 1126.57,322.70 1128.75,322.70 1130.93,322.70 1133.11,322.70 1135.29,322.70 1137.47,322.70 1139.64,322.70 1141.82,322.70 1144.00,322.70 1146.18,322.70 1148.36,322.70 1150.54,322.70 1152.72,322.70 1154.90,322.70 1157.08,322.70 1159.25,322.70 1161.43,322.70 1163.61,322.70 1165.79,322.70 1167.97,322.70 1170.15,322.70 1172.33,322.70 1174.51,322.70 1176.69,322.70 1178.86,322.70 1181.04,322.70 1183.22,322.70 1185.40,322.70 1187.58,322.70 1189.76,322.70 1191.94,322.70 1194.12,322.70 1196.30,322.70 1198.47,322.70 1200.65,322.70 1202.83,322.70 1205.01,322.70 1207.19,322.70 1209.37,322.70 1211.55,322.70 1213.73,322.70 1215.91,322.70 1218.08,322.70 1220.26,322.70 1222.44,322.70 1224.62,322.70 1226.80,322.70" fill="none" stroke="#0072BD" stroke-width="1.3"/>
<polyline points="793.20,322.70 795.38,318.94 797.56,315.11 799.74,311.30 801.92,307.53 804.09,303.79 806.27,300.09 808.45,296.43 810.63,292.82 812.81,289.25 814.99,285.73 817.17,282.26 819.35,278.85 821.53,275.50 823.70,272.21 825.88,268.98 828.06,265.82 830.24,262.74 832.42,259.72 834.60,256.78 836.78,253.92 838.96,251.15 841.14,248.45 843.31,245.83 845.49,243.28 847.67,240.81 849.85,238.42 852.03,236.09 854.21,233.82 856.39,231.63 858.57,229.50 860.75,227.42 862.92,225.41 865.10,223.46 867.28,221.57 869.46,219.74 871.64,217.96 873.82,216.25 876.00,214.59 878.18,212.99 880.36,211.45 882.53,209.96 884.71,208.53 886.89,207.16 889.07,205.85 891.25,204.59 893.43,203.38 895.61,202.23 897.79,201.14 899.97,200.10 902.14,199.11 904.32,198.18 906.50,197.30 908.68,196.47 910.86,195.69 913.04,194.95 915.22,194.24 917.40,193.57 919.58,192.94 921.75,192.33 923.93,191.75 926.11,191.19 928.29,190.66 930.47,190.15 932.65,189.66 934.83,189.19 937.01,188.74 939.19,188.31 941.36,187.91 943.54,187.52 945.72,187.15 947.90,186.80 950.08,186.47 952.26,186.16 954.44,185.86 956.62,185.58 958.80,185.32 960.97,185.07 963.15,184.83 965.33,184.62 967.51,184.41 969.69,184.22 971.87,184.05 974.05,183.88 976.23,183.73 978.41,183.59 980.58,183.46 982.76,183.35 984.94,183.24 987.12,183.14 989.30,183.06 991.48,182.98 993.66,182.91 995.84,182.85 998.02,182.79 1000.19,182.75 1002.37,182.71 1004.55,182.67 1006.73,182.64 1008.91,182.62 1011.09,182.60 1013.27,182.59 1015.45,182.57 1017.63,182.57 1019.81,182.56 1021.98,182.56 1024.16,182.56 1026.34,182.56 1028.52,182.56 1030.70,182.56 1032.88,182.56 1035.06,182.56 1037.24,182.56 1039.42,182.56 1041.59,182.56 1043.77,182.55 1045.95,182.54 1048.13,182.53 1050.31,182.51 1052.49,182.50 1054.67,182.50 1056.85,182.50 1059.03,182.50 1061.20,182.50 1063.38,182.50 1065.56,182.50 1067.74,182.50 1069.92,182.50 1072.10,182.50 1074.28,182.50 1076.46,182.50 1078.64,182.50 1080.81,182.50 1082.99,182.50 1085.17,182.50 1087.35,182.50 1089.53,182.50 1091.71,182.50 1093.89,182.50 1096.07,182.50 1098.25,182.50 1100.42,182.50 1102.60,182.50 1104.78,182.50 1106.96,182.50 1109.14,182.50 1111.32,182.50 1113.50,182.50 1115.68,182.50 1117.86,182.50 1120.03,182.50 1122.21,182.50 1124.39,182.50 1126.57,182.50 1128.75,182.50 1130.93,182.50 1133.11,182.50 1135.29,182.50 1137.47,182.50 1139.64,182.50 1141.82,182.50 1144.00,182.50 1146.18,182.50 1148.36,182.50 1150.54,182.50 1152.72,182.50 1154.90,182.50 1157.08,182.50 1159.25,182.50 1161.43,182.50 1163.61,182.50 1165.79,182.50 1167.97,182.50 1170.15,182.50 1172.33,182.50 1174.51,182.50 1176.69,182.50 1178.86,182.50 1181.04,182.50 1183.22,182.50 1185.40,182.50 1187.58,182.50 1189.76,182.50 1191.94,182.50 1194.12,182.50 1196.30,182.50 1198.47,182.50 1200.65,182.50 1202.83,182.50 1205.01,182.50 1207.19,182.50 1209.37,182.50 1211.55,182.50 1213.73,182.50 1215.91,182.50 1218.08,182.50 1220.26,182.50 1222.44,182.50 1224.62,182.50 1226.80,182.50" fill="none" stroke="#0072BD" stroke-width="1.3" stroke-dasharray="8 4.5"/>
<polyline points="793.20,182.50 795.38,182.50 797.56,182.50 799.74,182.50 801.92,182.50 804.09,182.50 806.27,182.50 808.45,182.50 810.63,182.50 812.81,182.50 814.99,182.50 817.17,182.50 819.35,182.50 821.53,182.50 823.70,182.50 825.88,182.50 828.06,182.50 830.24,182.50 832.42,182.50 834.60,182.50 836.78,182.50 838.96,182.50 841.14,182.50 843.31,182.50 845.49,182.50 847.67,182.50 849.85,182.50 852.03,182.50 854.21,182.50 856.39,182.50 858.57,182.50 860.75,182.50 862.92,182.50 865.10,182.50 867.28,182.50 869.46,182.50 871.64,182.50 873.82,182.50 876.00,182.50 878.18,182.50 880.36,182.50 882.53,182.50 884.71,182.50 886.89,182.50 889.07,182.50 891.25,182.50 893.43,182.50 895.61,182.50 897.79,182.50 899.97,182.50 902.14,182.50 904.32,182.50 906.50,182.50 908.68,182.50 910.86,182.50 913.04,182.50 915.22,182.50 917.40,182.50 919.58,182.50 921.75,182.50 923.93,182.50 926.11,182.50 928.29,182.50 930.47,182.50 932.65,182.50 934.83,182.50 937.01,182.50 939.19,182.50 941.36,182.50 943.54,182.50 945.72,182.50 947.90,182.50 950.08,182.50 952.26,182.50 954.44,182.50 956.62,182.50 958.80,182.50 960.97,182.50 963.15,182.50 965.33,182.50 967.51,182.50 969.69,182.50 971.87,182.50 974.05,182.50 976.23,182.50 978.41,182.50 980.58,182.50 982.76,182.50 984.94,182.50 987.12,182.50 989.30,182.50 991.48,182.50 993.66,182.50 995.84,182.50 998.02,182.50 1000.19,182.50 1002.37,182.50 1004.55,182.50 1006.73,182.50 1008.91,182.50 1011.09,182.50 1013.27,182.50 1015.45,182.50 1017.63,182.50 1019.81,182.50 1021.98,182.50 1024.16,182.50 1026.34,182.50 1028.52,182.50 1030.70,182.50 1032.88,182.50 1035.06,182.50 1037.24,182.50 1039.42,182.50 1041.59,182.50 1043.77,182.50 1045.95,182.50 1048.13,182.50 1050.31,182.50 1052.49,182.50 1054.67,182.50 1056.85,182.50 1059.03,182.50 1061.20,182.50 1063.38,182.50 1065.56,182.50 1067.74,182.50 1069.92,182.50 1072.10,182.50 1074.28,182.50 1076.46,182.50 1078.64,182.50 1080.81,182.50 1082.99,182.50 1085.17,182.50 1087.35,182.50 1089.53,182.50 1091.71,182.50 1093.89,182.50 1096.07,182.50 1098.25,182.50 1100.42,182.50 1102.60,182.50 1104.78,182.50 1106.96,182.50 1109.14,182.50 1111.32,182.50 1113.50,182.50 1115.68,182.50 1117.86,182.50 1120.03,182.50 1122.21,182.50 1124.39,182.50 1126.57,182.50 1128.75,182.50 1130.93,182.50 1133.11,182.50 1135.29,182.50 1137.47,182.50 1139.64,182.50 1141.82,182.50 1144.00,182.50 1146.18,182.50 1148.36,182.50 1150.54,182.50 1152.72,182.50 1154.90,182.50 1157.08,182.50 1159.25,182.50 1161.43,182.50 1163.61,182.50 1165.79,182.50 1167.97,182.50 1170.15,182.50 1172.33,182.50 1174.51,182.50 1176.69,182.50 1178.86,182.50 1181.04,182.50 1183.22,182.50 1185.40,182.50 1187.58,182.50 1189.76,182.50 1191.94,182.50 1194.12,182.50 1196.30,182.50 1198.47,182.50 1200.65,182.50 1202.83,182.50 1205.01,182.50 1207.19,182.50 1209.37,182.50 1211.55,182.50 1213.73,182.50 1215.91,182.50 1218.08,182.50 1220.26,182.50 1222.44,182.50 1224.62,182.50 1226.80,182.50" fill="none" stroke="#D95319" stroke-width="2"/>
<text x="1010.00" y="177" class="ttl" text-anchor="middle">Normalized Concentration</text>
<path d="M1006.20 351.8 C1007.40 351.2 1008.00 352.2 1008.60 353.5 L1011.90 359.6" fill="none" stroke="#333" stroke-width="1.1"/>
<path d="M1013.20 351.5 L1005.80 359.8" fill="none" stroke="#555" stroke-width="0.6"/>
<text transform="translate(761.20,250.90) rotate(-90)" class="lab" style="fill:#0072BD" text-anchor="middle"><tspan font-style="italic" font-size="13">m</tspan><tspan font-size="11" dy="5.5">ox</tspan></text>
<text transform="translate(1263.80,252.60) rotate(-90)" class="lab" style="fill:#D95319" text-anchor="middle" font-style="italic">s</text>
<rect x="1141.2" y="190.5" width="75.4" height="54.8" fill="#fff" stroke="#262626" stroke-width="1"/>
<line x1="1145.7" y1="201.3" x2="1185.2" y2="201.3" stroke="#0072BD" stroke-width="1.3"/>
<line x1="1145.7" y1="220.7" x2="1185.2" y2="220.7" stroke="#0072BD" stroke-width="1.3" stroke-dasharray="8 4.5"/>
<line x1="1145.7" y1="237" x2="1185.2" y2="237" stroke="#D95319" stroke-width="2"/>
<text x="1191.2" y="204" class="lg"><tspan font-style="italic" font-size="12">m</tspan><tspan font-size="8.5" dy="4" dx="-0.8">ox</tspan></text>
<text x="1191.2" y="222" class="lg"><tspan font-style="italic" font-size="12">m</tspan><tspan font-size="8.5" dy="4" dx="-0.8">red</tspan></text>
<text x="1191.2" y="241" class="lg" style="font-style:italic;font-size:12px">s</text>
<line x1="793.2" y1="380.6" x2="793.2" y2="522.8" stroke="#262626" stroke-width="1"/>
<line x1="793.2" y1="522.8" x2="1226.8000000000002" y2="522.8" stroke="#262626" stroke-width="1"/>
<line x1="793.20" y1="522.8" x2="793.20" y2="518.8" stroke="#262626" stroke-width="1"/>
<text transform="translate(793.20,539.8) scale(0.93,1)" class="tk" text-anchor="middle">0</text>
<line x1="836.56" y1="522.8" x2="836.56" y2="518.8" stroke="#262626" stroke-width="1"/>
<text transform="translate(836.56,539.8) scale(0.93,1)" class="tk" text-anchor="middle">2</text>
<line x1="879.92" y1="522.8" x2="879.92" y2="518.8" stroke="#262626" stroke-width="1"/>
<text transform="translate(879.92,539.8) scale(0.93,1)" class="tk" text-anchor="middle">4</text>
<line x1="923.28" y1="522.8" x2="923.28" y2="518.8" stroke="#262626" stroke-width="1"/>
<text transform="translate(923.28,539.8) scale(0.93,1)" class="tk" text-anchor="middle">6</text>
<line x1="966.64" y1="522.8" x2="966.64" y2="518.8" stroke="#262626" stroke-width="1"/>
<text transform="translate(966.64,539.8) scale(0.93,1)" class="tk" text-anchor="middle">8</text>
<line x1="1010.00" y1="522.8" x2="1010.00" y2="518.8" stroke="#262626" stroke-width="1"/>
<text transform="translate(1010.00,539.8) scale(0.93,1)" class="tk" text-anchor="middle">10</text>
<line x1="1053.36" y1="522.8" x2="1053.36" y2="518.8" stroke="#262626" stroke-width="1"/>
<text transform="translate(1053.36,539.8) scale(0.93,1)" class="tk" text-anchor="middle">12</text>
<line x1="1096.72" y1="522.8" x2="1096.72" y2="518.8" stroke="#262626" stroke-width="1"/>
<text transform="translate(1096.72,539.8) scale(0.93,1)" class="tk" text-anchor="middle">14</text>
<line x1="1140.08" y1="522.8" x2="1140.08" y2="518.8" stroke="#262626" stroke-width="1"/>
<text transform="translate(1140.08,539.8) scale(0.93,1)" class="tk" text-anchor="middle">16</text>
<line x1="1183.44" y1="522.8" x2="1183.44" y2="518.8" stroke="#262626" stroke-width="1"/>
<text transform="translate(1183.44,539.8) scale(0.93,1)" class="tk" text-anchor="middle">18</text>
<line x1="1226.80" y1="522.8" x2="1226.80" y2="518.8" stroke="#262626" stroke-width="1"/>
<text transform="translate(1226.80,539.8) scale(0.93,1)" class="tk" text-anchor="middle">20</text>
<line x1="793.2" y1="522.80" x2="797.2" y2="522.80" stroke="#262626" stroke-width="1"/>
<text transform="translate(788.2,527.60) scale(0.93,1)" class="tk" text-anchor="end">0</text>
<line x1="793.2" y1="487.25" x2="797.2" y2="487.25" stroke="#262626" stroke-width="1"/>
<text transform="translate(788.2,492.05) scale(0.93,1)" class="tk" text-anchor="end">2</text>
<line x1="793.2" y1="451.70" x2="797.2" y2="451.70" stroke="#262626" stroke-width="1"/>
<text transform="translate(788.2,456.50) scale(0.93,1)" class="tk" text-anchor="end">4</text>
<line x1="793.2" y1="416.15" x2="797.2" y2="416.15" stroke="#262626" stroke-width="1"/>
<text transform="translate(788.2,420.95) scale(0.93,1)" class="tk" text-anchor="end">6</text>
<line x1="793.2" y1="380.60" x2="797.2" y2="380.60" stroke="#262626" stroke-width="1"/>
<text transform="translate(788.2,385.40) scale(0.93,1)" class="tk" text-anchor="end">8</text>
<text x="1010.00" y="375.5" class="ttl" text-anchor="middle">Non Dimensionalized Flux</text>
<text transform="translate(1010.00,556) scale(0.93,1)" class="tk" text-anchor="middle">t / s</text>
<text transform="translate(773.20,451.70) rotate(-90)" class="jm" text-anchor="middle"><tspan font-style="italic" font-size="14">J</tspan><tspan font-size="9" dy="2.5">M</tspan></text>
<circle cx="794.2" cy="414.99" r="1.5" fill="#000"/>
<text x="1208.20" y="405.5" class="ann" text-anchor="end">Δ<tspan dx="3">sserror = 6.043715</tspan></text>
<text x="1200.80" y="425.5" class="ann" style="fill:#D81818" text-anchor="end">Case State = 3.00</text>
<circle cx="1226.80" cy="494.5" r="6.2" fill="none" stroke="#707070" stroke-width="0.9" stroke-dasharray="2.2 1"/>
<circle cx="1226.80" cy="494.5" r="3.9" fill="none" stroke="#707070" stroke-width="0.9"/>
<line x1="1226.80" y1="488.3" x2="1226.80" y2="500.8" stroke="#888" stroke-width="0.5"/>
<line x1="1220.30" y1="494.5" x2="1233.30" y2="494.5" stroke="#aaa" stroke-width="0.4"/>
<circle cx="1226.80" cy="494.5" r="0.8" fill="#c44"/>
<g id="toolbar" fill="none" stroke="#6e6e6e" stroke-width="1" stroke-linecap="round" stroke-linejoin="round">
<rect x="1086.8" y="359" width="141" height="20" fill="#fff" stroke="none"/>
<path d="M1089.9 371.2 H1101.6 V374.6 H1089.9 Z" stroke="#8a8a8a"/>
<path d="M1092.8 371 C1092.3 367.5 1095 364.2 1098.3 364.3 C1100.6 364.6 1100.3 367 1098.2 367.6 C1096.3 368.2 1095.2 369.8 1094.8 371" stroke="#8a8a8a"/>
<path d="M1102 376.5 L1105.5 376.5 L1105.5 373 Z" fill="#6e6e6e" stroke="none"/>
<path d="M1118 368.8 V362.2 H1121.3 V368.8"/>
<path d="M1116.5 369.5 H1123.2 L1123.6 376.3 H1112 Z" />
<path d="M1113 375.5 L1123.3 373.5 L1123.5 376.3 Z" fill="#6e6e6e" stroke="none"/>
<path d="M1117 371.8 H1123"/>
<path d="M1132.2 362.5 H1144.6 V376.6 H1132.2 V370.5 L1130.6 369.3 L1132.2 368 Z"/>
<path d="M1135 367.6 H1141.4 M1135 370.7 H1141.4" stroke="#777"/>
<path transform="translate(1150.3,0) scale(1.4,1) translate(-1150.3,0)" vector-effect="non-scaling-stroke" d="M1153.5 372.8 L1150.6 368.6 C1150.2 367.8 1151.3 367.1 1152.1 367.8 L1153.3 369.2 V364.1 C1153.3 363.2 1154.8 363.2 1154.8 364.1 V367.5 V363.2 C1154.8 362.3 1156.5 362.3 1156.5 363.2 V367.5 V363.3 C1156.5 362.4 1158.2 362.4 1158.2 363.3 V367.5 V364 C1158.2 363.1 1159.8 363.1 1159.8 364 V370.5 C1159.8 372.8 1159 374.8 1158 376.4 H1154.8 Z"/>
<circle cx="1175.9" cy="368" r="5.7"/>
<path d="M1180 372.2 L1184.6 376.6 M1173 368 H1178.8 M1175.9 365.1 V370.9"/>
<circle cx="1195.5" cy="368" r="5.7"/>
<path d="M1199.6 372.2 L1204.3 376.6 M1192.6 368 H1198.4"/>
<path d="M1209.6 369.2 L1217.2 362.6 L1224.6 369.4 M1211.2 368.5 V376.5 H1222.6 V368.5 M1215.6 376.5 V371 H1218.6 V376.5 M1220.6 364.5 V363.6 H1221.6 V365.6"/>
</g>
</svg>
<div class="cap" style="left:230px;top:637px;width:101px;height:36px;line-height:30px">α = 0.1</div>
<div class="cap" style="left:950px;top:637px;width:101px;height:36px;line-height:30px">α = 50</div>
</body></html>
